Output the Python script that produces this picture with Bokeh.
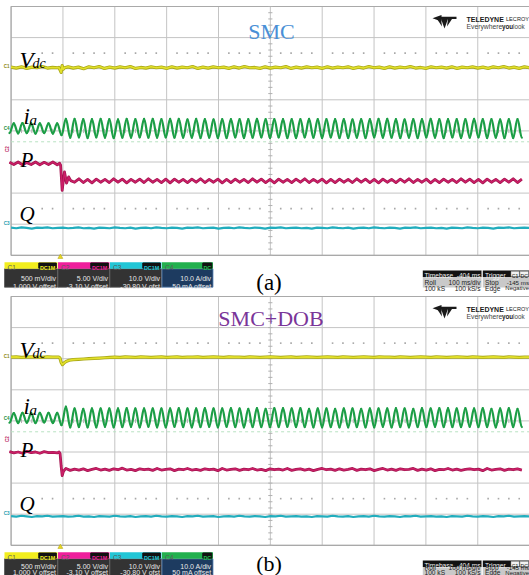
import numpy as np
from bokeh.plotting import figure
from bokeh.models import Range1d
from bokeh.core.properties import value
from bokeh.embed import file_html
from bokeh.resources import INLINE

# ---------------- data ----------------
# time in ms from the left edge of the screen (100 ms/div), levels in screen divisions (+4 top .. -4 bottom)
SAMPLE_T = list(range(0, 1001, 10))

VDC_A = [2.05, 2.02, 2.06, 2.01, 2.05, 2.03, 2.07, 2.02, 2.04, 2.03,
         2.01, 2.06, 2.02, 2.05, 2.00, 2.06, 2.03, 2.07, 2.01, 2.05,
         2.02, 2.06, 2.03, 2.07, 2.01, 2.04, 2.02, 2.06, 2.03, 2.05,
         2.01, 2.06, 2.02, 2.05, 2.03, 2.07, 2.01, 2.05, 2.02, 2.06,
         2.03, 2.05, 2.01, 2.06, 2.02, 2.07, 2.03, 2.04, 2.01, 2.06,
         2.02, 2.05, 2.03, 2.07, 2.01, 2.05, 2.02, 2.06, 2.03, 2.05,
         2.01, 2.06, 2.02, 2.05, 2.03, 2.06, 2.01, 2.05, 2.02, 2.07,
         2.03, 2.05, 2.01, 2.06, 2.02, 2.05, 2.03, 2.07, 2.02, 2.04,
         2.01, 2.06, 2.03, 2.05, 2.02, 2.06, 2.01, 2.05, 2.03, 2.06,
         2.02, 2.05, 2.01, 2.06, 2.03, 2.07, 2.02, 2.05, 2.01, 2.06,
         2.03]
VDC_B = [2.05, 2.06, 2.04, 2.05, 2.06, 2.05, 2.04, 2.06, 2.05, 2.05,
         1.85, 1.93, 1.96, 1.98, 1.99, 2.00, 2.01, 2.02, 2.03, 2.04,
         2.05, 2.04, 2.06, 2.05, 2.04, 2.06, 2.05, 2.04, 2.05, 2.06,
         2.04, 2.05, 2.06, 2.04, 2.05, 2.05, 2.06, 2.04, 2.05, 2.06,
         2.05, 2.04, 2.06, 2.05, 2.05, 2.04, 2.06, 2.05, 2.04, 2.05,
         2.06, 2.05, 2.04, 2.05, 2.06, 2.04, 2.05, 2.06, 2.05, 2.04,
         2.05, 2.06, 2.05, 2.04, 2.06, 2.05, 2.04, 2.05, 2.06, 2.05,
         2.04, 2.06, 2.05, 2.05, 2.04, 2.06, 2.05, 2.04, 2.05, 2.06,
         2.05, 2.04, 2.06, 2.05, 2.04, 2.05, 2.06, 2.05, 2.04, 2.06,
         2.05, 2.04, 2.05, 2.06, 2.05, 2.04, 2.06, 2.05, 2.04, 2.05,
         2.05]
Q_A = [-3.11, -3.13, -3.10, -3.12, -3.14, -3.11, -3.12, -3.10, -3.13, -3.12,
       -3.11, -3.13, -3.12, -3.10, -3.13, -3.12, -3.14, -3.11, -3.12, -3.13,
       -3.10, -3.12, -3.13, -3.11, -3.14, -3.12, -3.11, -3.13, -3.10, -3.12,
       -3.13, -3.11, -3.12, -3.14, -3.11, -3.12, -3.10, -3.13, -3.12, -3.11,
       -3.14, -3.12, -3.11, -3.13, -3.10, -3.12, -3.13, -3.11, -3.12, -3.14,
       -3.11, -3.12, -3.10, -3.13, -3.12, -3.11, -3.13, -3.12, -3.14, -3.11,
       -3.12, -3.13, -3.10, -3.12, -3.13, -3.11, -3.14, -3.12, -3.11, -3.13,
       -3.10, -3.12, -3.13, -3.11, -3.12, -3.14, -3.11, -3.12, -3.10, -3.13,
       -3.12, -3.11, -3.13, -3.12, -3.14, -3.11, -3.12, -3.13, -3.10, -3.12,
       -3.13, -3.11, -3.12, -3.14, -3.11, -3.12, -3.10, -3.13, -3.12, -3.11,
       -3.12]
Q_B = [-3.06, -3.08, -3.05, -3.07, -3.09, -3.06, -3.07, -3.05, -3.08, -3.07,
       -3.06, -3.08, -3.07, -3.05, -3.08, -3.07, -3.09, -3.06, -3.07, -3.08,
       -3.05, -3.07, -3.08, -3.06, -3.09, -3.07, -3.06, -3.08, -3.05, -3.07,
       -3.08, -3.06, -3.07, -3.09, -3.06, -3.07, -3.05, -3.08, -3.07, -3.06,
       -3.09, -3.07, -3.06, -3.08, -3.05, -3.07, -3.08, -3.06, -3.07, -3.09,
       -3.06, -3.07, -3.05, -3.08, -3.07, -3.06, -3.08, -3.07, -3.09, -3.06,
       -3.07, -3.08, -3.05, -3.07, -3.08, -3.06, -3.09, -3.07, -3.06, -3.08,
       -3.05, -3.07, -3.08, -3.06, -3.07, -3.09, -3.06, -3.07, -3.05, -3.08,
       -3.07, -3.06, -3.08, -3.07, -3.09, -3.06, -3.07, -3.08, -3.05, -3.07,
       -3.08, -3.06, -3.07, -3.09, -3.06, -3.07, -3.05, -3.08, -3.07, -3.06,
       -3.07]

# details around the load step (t ~ 95 ms)
VDC_A_STEP_T = [92.0, 94.5, 96.5, 98.5, 100.5, 103.0]
VDC_A_STEP = [2.04, 1.96, 1.88, 2.10, 1.98, 2.03]
VDC_B_STEP_T = [92.0, 94.0, 96.5, 99.0, 102.0, 106.0, 112.0, 120.0]
VDC_B_STEP = [2.05, 2.03, 1.88, 1.81, 1.86, 1.91, 1.95, 1.97]
P_A_STEP_T = [93.5, 95.5, 98.5, 103.0, 107.0, 111.0, 115.0]
P_A_STEP = [-1.04, -1.10, -1.91, -1.32, -1.68, -1.48, -1.60]
P_B_STEP_T = [92.5, 94.5, 96.5, 98.5, 101.0, 104.0]
P_B_STEP = [-1.00, -1.05, -1.45, -1.76, -1.62, -1.56]

# ia: extrema every half cycle (first one a trough), amplitudes in div
IA_FIRST_T = -3.2
IA_HALF_T = 8.375
IA_A_CENTER = 0.08
IA_B_CENTER = 0.10
IA_A_AMP = [0.15, 0.16, 0.16, 0.17, 0.15, 0.16, 0.17, 0.16, 0.15, 0.16, 0.17, 0.16,
            0.22, 0.31,
            0.30, 0.31, 0.29, 0.30, 0.31, 0.30, 0.29, 0.31, 0.30, 0.30, 0.31, 0.29, 0.30, 0.31, 0.30,
            0.30, 0.29, 0.31, 0.30, 0.31, 0.30, 0.30, 0.29, 0.31, 0.30, 0.31, 0.30, 0.29, 0.30, 0.31,
            0.31, 0.30, 0.30, 0.29, 0.31, 0.30, 0.31, 0.30, 0.29, 0.30, 0.31, 0.30, 0.30, 0.31, 0.29,
            0.30, 0.31, 0.30, 0.29, 0.30, 0.31, 0.30, 0.31, 0.30, 0.29, 0.31, 0.30, 0.30, 0.31, 0.30,
            0.29, 0.30, 0.31, 0.30, 0.31, 0.29, 0.30, 0.30, 0.31, 0.30, 0.29, 0.31, 0.30, 0.31, 0.30,
            0.30, 0.31, 0.29, 0.30, 0.30, 0.31, 0.30, 0.29, 0.31, 0.30, 0.30, 0.31, 0.30, 0.29, 0.30,
            0.31, 0.30, 0.30, 0.31, 0.29, 0.30, 0.31, 0.30, 0.30, 0.29, 0.31, 0.30, 0.31, 0.30, 0.30]
IA_B_AMP = [0.16, 0.15, 0.17, 0.16, 0.16, 0.15, 0.17, 0.16, 0.15, 0.16, 0.17, 0.16,
            0.24, 0.36,
            0.31, 0.30, 0.30, 0.29, 0.31, 0.30, 0.31, 0.30, 0.29, 0.30, 0.31, 0.30, 0.30, 0.31, 0.29,
            0.30, 0.31, 0.30, 0.29, 0.30, 0.31, 0.30, 0.31, 0.30, 0.29, 0.31, 0.30, 0.30, 0.31, 0.30,
            0.30, 0.31, 0.29, 0.30, 0.31, 0.30, 0.29, 0.31, 0.30, 0.30, 0.31, 0.29, 0.30, 0.31, 0.30,
            0.29, 0.30, 0.31, 0.30, 0.31, 0.29, 0.30, 0.30, 0.31, 0.30, 0.29, 0.31, 0.30, 0.31, 0.30,
            0.30, 0.29, 0.31, 0.30, 0.31, 0.30, 0.30, 0.29, 0.31, 0.30, 0.31, 0.30, 0.29, 0.30, 0.31,
            0.31, 0.30, 0.30, 0.31, 0.29, 0.30, 0.31, 0.30, 0.30, 0.29, 0.31, 0.30, 0.31, 0.30, 0.30,
            0.30, 0.31, 0.29, 0.30, 0.30, 0.31, 0.30, 0.29, 0.31, 0.30, 0.30, 0.31, 0.30, 0.29, 0.30]
# P: level at the same half-cycle instants (ripple tops / dips)
P_A = [-1.01, -1.08, -1.00, -1.09, -1.02, -1.08, -1.00, -1.09, -1.01, -1.08, -1.00, -1.09,
       -1.55, -1.66, -1.56, -1.65, -1.54, -1.66, -1.56, -1.67, -1.55, -1.65,
       -1.56, -1.66, -1.54, -1.65, -1.55, -1.67, -1.56, -1.65, -1.55, -1.66,
       -1.54, -1.65, -1.56, -1.66, -1.55, -1.67, -1.55, -1.65, -1.56, -1.66,
       -1.55, -1.65, -1.54, -1.66, -1.56, -1.65, -1.55, -1.67, -1.56, -1.66,
       -1.55, -1.65, -1.56, -1.66, -1.54, -1.65, -1.55, -1.66, -1.56, -1.67,
       -1.55, -1.65, -1.56, -1.66, -1.55, -1.65, -1.54, -1.66, -1.56, -1.65,
       -1.55, -1.67, -1.56, -1.66, -1.55, -1.65, -1.56, -1.66, -1.54, -1.65,
       -1.55, -1.66, -1.56, -1.67, -1.55, -1.65, -1.56, -1.66, -1.55, -1.65,
       -1.54, -1.66, -1.56, -1.65, -1.55, -1.67, -1.56, -1.66, -1.55, -1.65,
       -1.56, -1.66, -1.54, -1.65, -1.55, -1.66, -1.56, -1.67, -1.55, -1.65,
       -1.56, -1.66, -1.55, -1.65, -1.54, -1.66, -1.55]
P_B = [-0.99, -1.03, -1.00, -1.04, -0.98, -1.02, -1.00, -1.04, -0.99, -1.02, -1.01, -1.03,
       -1.57, -1.53, -1.59, -1.55, -1.58, -1.54, -1.60, -1.56, -1.53, -1.58,
       -1.55, -1.59, -1.54, -1.57, -1.52, -1.58, -1.56, -1.60, -1.54, -1.57,
       -1.55, -1.59, -1.53, -1.58, -1.56, -1.54, -1.60, -1.55, -1.57, -1.53,
       -1.58, -1.56, -1.59, -1.54, -1.57, -1.55, -1.60, -1.53, -1.58, -1.56,
       -1.54, -1.59, -1.55, -1.57, -1.53, -1.58, -1.56, -1.60, -1.54, -1.57,
       -1.55, -1.58, -1.53, -1.59, -1.56, -1.54, -1.58, -1.55, -1.60, -1.56,
       -1.53, -1.57, -1.55, -1.59, -1.54, -1.58, -1.56, -1.53, -1.59, -1.55,
       -1.57, -1.54, -1.60, -1.56, -1.53, -1.58, -1.55, -1.59, -1.54, -1.57,
       -1.56, -1.53, -1.59, -1.55, -1.58, -1.54, -1.60, -1.56, -1.57, -1.53,
       -1.58, -1.55, -1.59, -1.56, -1.54, -1.57, -1.55, -1.60, -1.53, -1.58,
       -1.56, -1.54, -1.59, -1.55, -1.57, -1.54, -1.58]

TITLES = ["SMC", "SMC+DOB"]
TITLE_COLORS = ["#4a8fd6", "#7a3599"]
CAPTIONS = ["(a)", "(b)"]
CH_NAMES = ["C1", "C2", "C3", "C4"]
CH_COUPLING = ["DC1M", "DC1M", "DC1M", "DC"]
CH_SCALE = ["500 mV/div", "5.00 V/div", "10.0 V/div", "10.0 A/div"]
CH_OFFSET = ["1.000 V offset", "-3.10 V offset", "-30.80 V ofst", "50 mA offset"]
TIMEBASE = ["Timebase", "-404 ms", "Roll", "100 ms/div", "100 kS", "100 kS/s"]
TRIGGER = ["Trigger", "Stop", "-145 ms", "Edge", "Negative"]

# ---------------- layout (pixels of the reference picture) ----------------
PX0, DIVW, DIVH = 10.6, 51.85, 31.1
PANEL_TOP = [6.0, 296.0]
OFFS = [0.0, 290.0]
X_LO, X_HI, Y_TOP, Y_BOT = 0.0, 529.0, 0.0, 575.0

C_VDC, C_IA, C_P, C_Q = "#e2e02a", "#1c9e46", "#cc1f68", "#22adbd"
HDR = ["#f2ee1e", "#ee1f9c", "#22c6d6", "#22b04e"]
BADGE_TXT = ["#f2ee1e", "#ee1f9c", "#22c6d6", "#22c050"]

p = figure(width=int(X_HI - X_LO), height=int(Y_BOT - Y_TOP),
           x_range=Range1d((X_LO - PX0) / DIVW * 100, (X_HI - PX0) / DIVW * 100),
           y_range=Range1d(start=Y_BOT, end=Y_TOP),
           output_backend="svg", toolbar_location=None, min_border=0,
           x_axis_type=None, y_axis_type=None, outline_line_color=None,
           background_fill_color="white", border_fill_color="white")
p.extra_x_ranges = {"px": Range1d(X_LO, X_HI)}
p.extra_y_ranges = {
    nm: Range1d(start=4 - (Y_BOT - top) / DIVH, end=4 - (Y_TOP - top) / DIVH)
    for nm, top in zip(["a", "b"], PANEL_TOP)
}


def txt(x, y, s, size, color="black", font="Liberation Sans", style="normal", align="left", angle=0.0):
    p.text(x=[x], y=[y], text=[s], x_range_name="px", text_font=value(font),
           text_font_size=f"{size}px", text_font_style=style, text_color=color,
           text_align=align, text_baseline="alphabetic", angle=angle)


def fit(y, size, k=0.36):
    # keep a text line (with its descent) inside the bottom edge of the picture
    return min(y, Y_BOT - k * size - 0.6)


def merge(t_main, v_main, t_step, v_step):
    lo, hi = t_step[0], t_step[-1]
    pts = [(t, v) for t, v in zip(t_main, v_main) if t < lo or t > hi]
    pts += list(zip(t_step, v_step))
    pts.sort()
    return [a for a, _ in pts], [b for _, b in pts]


ia_t = [IA_FIRST_T + k * IA_HALF_T for k in range(len(IA_A_AMP))]

panels = [
    dict(rng="a", vdc=(VDC_A, VDC_A_STEP_T, VDC_A_STEP), q=Q_A, p=(P_A, P_A_STEP_T, P_A_STEP),
         ia=(IA_A_CENTER, IA_A_AMP)),
    dict(rng="b", vdc=(VDC_B, VDC_B_STEP_T, VDC_B_STEP), q=Q_B, p=(P_B, P_B_STEP_T, P_B_STEP),
         ia=(IA_B_CENTER, IA_B_AMP)),
]

for i, pan in enumerate(panels):
    r = pan["rng"]
    oy = OFFS[i]
    # ---- graticule ----
    vx = list(range(0, 1001, 100))
    p.segment(x0=vx, y0=[-4] * len(vx), x1=vx, y1=[4] * len(vx), y_range_name=r,
              line_color="#c4c4c4", line_width=1)
    hy = list(range(-4, 5))
    p.segment(x0=[0] * len(hy), y0=hy, x1=[1000] * len(hy), y1=hy, y_range_name=r,
              line_color="#c4c4c4", line_width=1)
    p.quad(left=[0], right=[1000], bottom=[-4], top=[4], y_range_name=r,
           fill_color=None, line_color="#a9a9a9", line_width=1.2)
    ty = list(np.arange(-4, 4.01, 0.2))
    p.segment(x0=[496] * len(ty), y0=ty, x1=[504] * len(ty), y1=ty, y_range_name=r,
              line_color="#b0b0b0", line_width=1)
    tx = list(range(20, 1000, 20))
    p.segment(x0=tx, y0=[-0.07] * len(tx), x1=tx, y1=[0.07] * len(tx), y_range_name=r,
              line_color="#b0b0b0", line_width=1)
    dots = [d * 100 + j * 20 for d in range(10) for j in range(1, 5) if d * 100 + j * 20 > 50]
    for lev in (2.5, -2.5):
        p.scatter(x=dots, y=[lev] * len(dots), y_range_name=r, marker="square", size=1.6,
                  fill_color="#a8a8a8", line_color=None)
    p.segment(x0=[0], y0=[-0.35], x1=[1000], y1=[-0.35], y_range_name=r,
              line_color="#b8e2c2", line_width=1, line_dash="3 3")

    # ---- traces ----
    vals, st, sv = pan["vdc"]
    t, v = merge(SAMPLE_T, vals, st, sv)
    p.line(t, v, y_range_name=r, line_color="#a9a818", line_width=3.2, line_join="round")
    p.line(t, v, y_range_name=r, line_color=C_VDC, line_width=1.6, line_join="round")

    c, amps = pan["ia"]
    ys = [c + (a if k % 2 else -a) for k, a in enumerate(amps)]
    x0, x1 = ia_t[:-1], ia_t[1:]
    y0, y1 = ys[:-1], ys[1:]
    cx0 = [a + 0.364 * (b - a) for a, b in zip(x0, x1)]
    cx1 = [b - 0.364 * (b - a) for a, b in zip(x0, x1)]
    p.bezier(x0=x0, y0=y0, x1=x1, y1=y1, cx0=cx0, cy0=y0, cx1=cx1, cy1=y1,
             y_range_name=r, line_color=C_IA, line_width=2.2, line_cap="round")

    vals, st, sv = pan["p"]
    t, v = merge(ia_t, vals, st, sv)
    p.line(t, v, y_range_name=r, line_color="#a3154f", line_width=2.8, line_join="round")
    p.line(t, v, y_range_name=r, line_color=C_P, line_width=1.4, line_join="round")

    p.line(SAMPLE_T, pan["q"], y_range_name=r, line_color=C_Q, line_width=2.2, line_join="round")

    # ---- channel markers at the left edge ----
    txt(3.2, 65.8 + oy, "C1", 4.6, color="#8c8a10", style="bold")
    txt(3.2, 128.2 + oy, "C4", 4.6, color="#1c8e40", style="bold")
    txt(7.4, 151.5 + oy, "C2", 4.6, color="#b8185c", style="bold", angle=np.pi / 2)
    txt(3.2, 223.0 + oy, "C3", 4.6, color="#1e9eae", style="bold")

    # ---- labels ----
    txt(19, 60 + oy, "V", 23, font="Liberation Serif", style="italic")
    txt(32, 62.5 + oy, "dc", 14, font="Liberation Serif", style="italic")
    txt(23, 115.5 + oy, "i", 23, font="Liberation Serif", style="italic")
    txt(29, 119.5 + oy, "a", 15, font="Liberation Serif", style="italic")
    txt(20, 159.5 + oy, "P", 21, font="Liberation Serif", style="italic")
    txt(19, 213 + oy, "Q", 21, font="Liberation Serif", style="italic")

    tb = 30.5 if i == 0 else 317.5
    txt(271 if i == 0 else 270.5, tb, TITLES[i], 22, color=TITLE_COLORS[i], font="Liberation Serif",
        align="center")

    # ---- logo ----
    p.patch([432, 441, 441, 456, 456, 441, 441], [17.8 + oy, 14.6 + oy, 16.3 + oy, 16.3 + oy,
            18.6 + oy, 18.6 + oy, 21 + oy], x_range_name="px", fill_color="#1a1a1a", line_color=None)
    p.patch([440.5, 447.5, 444], [18.6 + oy, 18.6 + oy, 28 + oy], x_range_name="px",
            fill_color="#1a1a1a", line_color=None)
    p.patch([436.5, 440.5, 441.5], [18.6 + oy, 18.6 + oy, 26 + oy], x_range_name="px",
            fill_color="#1a1a1a", line_color=None)
    p.patch([447.5, 451.5, 446.5], [18.6 + oy, 18.6 + oy, 26 + oy], x_range_name="px",
            fill_color="#1a1a1a", line_color=None)
    txt(466, 18.5 + oy, "TELEDYNE", 7, color="#1a1a1a", style="bold")
    txt(505.5, 18.5 + oy, "LECROY", 5.6, color="#1a1a1a")
    txt(466, 25.8 + oy, "Everywhere", 6.8, color="#444444")
    txt(501.5, 25.8 + oy, "you", 6.3, color="#222222", style="bold")
    txt(512.5, 25.8 + oy, "look", 6.3, color="#444444")

    # ---- trigger marker ----
    p.scatter(x=[95], y=[256.5 + oy], marker="triangle", size=5, fill_color="#e8d820",
              line_color="#b0a010", line_width=0.5)

    # ---- channel descriptor boxes ----
    top, hb, bot = 261.7 + oy, 268.3 + oy, 286.7 + oy
    lefts = [4.0, 57.5, 109.5, 161.5]
    rights = [57.0, 109.0, 161.0, 212.5]
    bodies = ["#333333", "#333333", "#333333", "#1d3b60"]
    p.quad(left=lefts, right=rights, top=[hb] * 4, bottom=[bot] * 4, x_range_name="px",
           fill_color=bodies, line_color=["#555555"] * 3 + ["#5a86b8"], line_width=0.8)
    p.quad(left=lefts, right=rights, top=[top] * 4, bottom=[hb] * 4, x_range_name="px",
           fill_color=HDR, line_color=None)
    bw = [17.5, 17.5, 17.5, 9.0]
    p.quad(left=[rt - 1.2 - w for rt, w in zip(rights, bw)], right=[rt - 1.2 for rt in rights],
           top=[top + 0.8] * 4, bottom=[hb - 0.6] * 4, x_range_name="px",
           fill_color="#111111", line_color="#111111")
    l2 = fit(285.6 + oy, 7)
    l1 = min(278.3 + oy, l2 - 6.2)
    for k in range(4):
        txt(lefts[k] + 3, hb - 1.2, CH_NAMES[k], 6.5, color="#5a5a5a")
        txt(rights[k] - 1.2 - bw[k] / 2, hb - 1.3, CH_COUPLING[k], 5.4, color=BADGE_TXT[k],
            style="bold", align="center")
        txt(rights[k] - 1.5, l1, CH_SCALE[k], 7, color="#e8e8e8", align="right")
        txt(rights[k] - 1.5, l2, CH_OFFSET[k], 7, color="#e8e8e8", align="right")

    # ---- caption ----
    cap_size = 23 if i == 0 else 22
    txt(268.5, fit(282 + oy, cap_size, k=0.5), CAPTIONS[i], cap_size, font="Liberation Serif",
        align="center")

    # ---- timebase / trigger boxes ----
    t0, th, tbm = 270.0 + oy, 276.6 + oy, 287.0 + oy
    b2 = fit(287.6 + oy, 6.6)
    b1 = min(282 + oy, b2 - 5.5)
    p.quad(left=[422.3, 482.3], right=[481.0, 540.0], top=[th] * 2, bottom=[tbm] * 2,
           x_range_name="px", fill_color="#c9c9c9", line_color=None)
    p.quad(left=[422.3, 482.3], right=[481.0, 540.0], top=[t0] * 2, bottom=[th] * 2,
           x_range_name="px", fill_color="#121212", line_color=None)
    p.quad(left=[510.5, 519.5], right=[518.8, 528.0], top=[t0 + 0.8] * 2, bottom=[th - 0.6] * 2,
           x_range_name="px", fill_color="#f2f2f2", line_color="#888888", line_width=0.5)
    txt(424, th - 1.3, TIMEBASE[0], 6.6, color="#f0f0f0")
    txt(480, th - 1.3, TIMEBASE[1], 6.6, color="#f0f0f0", align="right")
    txt(424, b1, TIMEBASE[2], 6.6, color="#222222")
    txt(480, b1, TIMEBASE[3], 6.6, color="#222222", align="right")
    txt(424, b2, TIMEBASE[4], 6.6, color="#222222")
    txt(480, b2, TIMEBASE[5], 6.6, color="#222222", align="right")
    txt(484.5, th - 1.3, TRIGGER[0], 6.6, color="#f0f0f0")
    txt(514.6, th - 1.3, "C1", 5.2, color="#111111", align="center")
    txt(523.8, th - 1.3, "DC", 5.2, color="#111111", align="center")
    txt(484.5, b1, TRIGGER[1], 6.6, color="#222222")
    txt(528.5, b1, TRIGGER[2], 6.2, color="#222222", align="right")
    txt(484.5, b2, TRIGGER[3], 6.6, color="#222222")
    txt(528.5, b2, TRIGGER[4], 6.0, color="#222222", align="right")

open("out.html", "w").write(file_html(p, INLINE))
